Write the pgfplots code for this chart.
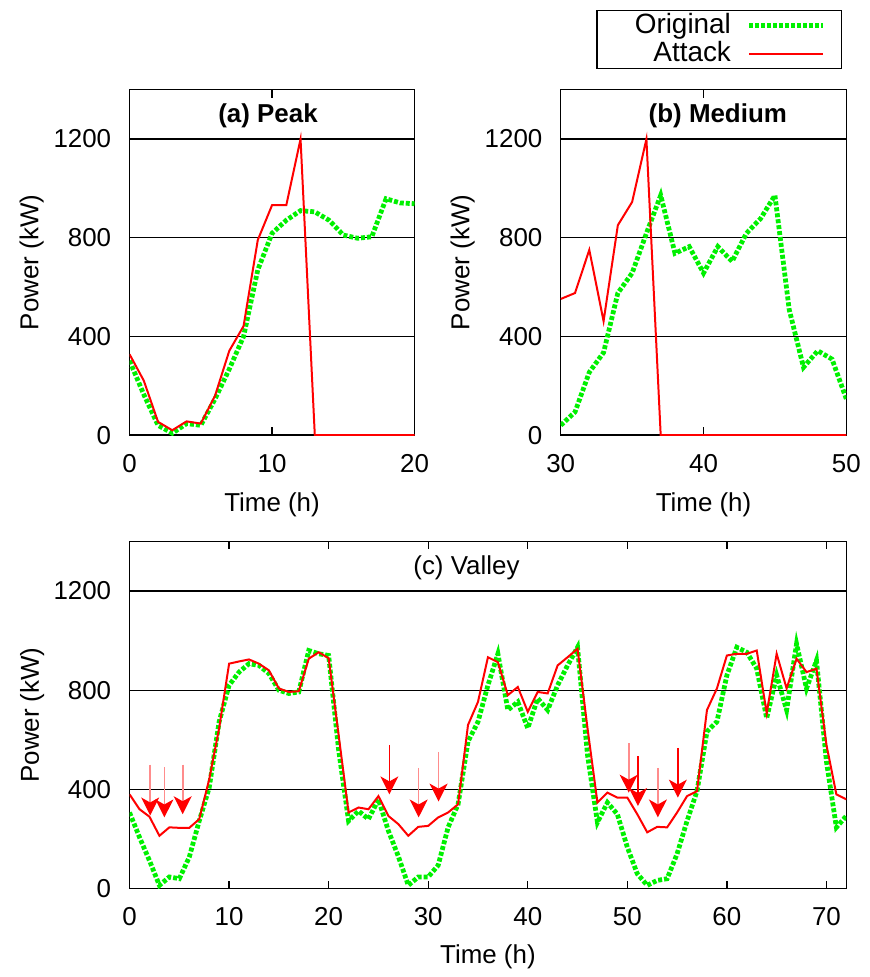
\documentclass[border=0pt]{standalone}
\usepackage{fontspec}
\setmainfont{Liberation Sans}
\usepackage{pgfplots}
\pgfplotsset{compat=1.18}
\usetikzlibrary{arrows.meta}

\definecolor{ggreen}{RGB}{0,240,0}

\pgfplotsset{
  panel/.style={
    scale only axis,
    ymin=0, ymax=1400,
    ytick={0,400,800,1200},
    ymajorgrids,
    grid style={black, line width=0.7pt},
    axis line style={line width=0.7pt},
    tick align=inside,
    major tick length=4pt,
    tick style={black, line width=0.7pt},
    every axis title shift=0pt,
    /pgf/number format/assume math mode=true,
    /pgf/number format/1000 sep={},
    xticklabel style={yshift=-5pt},
    yticklabel style={xshift=-4.7pt},
    xlabel={Time (h)},
    ylabel={Power (kW)},
  },
  orig/.style={color=ggreen, line width=2.4pt, dash pattern=on 2pt off 1pt},
  att/.style={color=red, line width=1pt},
  hit/.style={line width=0.8pt, forget plot,
    -{Stealth[red, length=9pt, width=9pt, inset=2.5pt]},
    quiver={u=0, v=\thisrow{v}}},
}

\begin{document}
\fontsize{13}{15}\selectfont
\begin{tikzpicture}
\path (0,0) rectangle (435.5pt,-488.5pt);

% (a) Peak
\begin{axis}[panel,
  at={(65pt,-218.35pt)}, anchor=south west,
  width=143pt, height=173.35pt,
  xmin=0, xmax=20, xtick={0,10,20},
  title={\textbf{(a) Peak}},
  title style={at={(axis description cs:0.486,0.923)}, anchor=center},
  xlabel style={at={(axis description cs:0.5,-0.202)}, anchor=center},
  ylabel style={at={(axis description cs:-0.343,0.5)}, anchor=center},
]
\addplot[orig] table {
t p
0 302
1 165
2 40
3 8
4 47
5 40
6 147
7 268
8 400
9 670
10 818
11 871
12 910
13 905
14 871
15 811
16 798
17 804
18 958
19 941
20 938
};
\addplot[att] table {
t p
0 328
1 221
2 54
3 20
4 56
5 47
6 160
7 342
8 442
9 791
10 932
11 932
12 1200
13 0
14 0
15 0
16 0
17 0
18 0
19 0
20 0
};
\end{axis}

% (b) Medium
\begin{axis}[panel,
  at={(281.35pt,-218.35pt)}, anchor=south west,
  width=143.3pt, height=173.35pt,
  xmin=30, xmax=50, xtick={30,40,50},
  title={\textbf{(b) Medium}},
  title style={at={(axis description cs:0.55,0.923)}, anchor=center},
  xlabel style={at={(axis description cs:0.5,-0.202)}, anchor=center},
  ylabel style={at={(axis description cs:-0.343,0.5)}, anchor=center},
  legend cell align=right,
  legend plot pos=right,
  legend image code/.code={\draw[#1] (0pt,0pt) -- (37pt,0pt);},
  legend style={at={(axis description cs:0.985,1.231)}, anchor=north east,
    draw=black, line width=0.7pt, inner xsep=8pt, inner ysep=0.5pt,
    row sep=0pt, font=\fontsize{14}{16}\selectfont, nodes={inner ysep=1pt, inner xsep=1pt}},
]
\addplot[orig] table {
t p
30 40
31 94
32 255
33 335
34 576
35 657
36 818
37 972
38 737
39 764
40 657
41 764
42 704
43 818
44 878
45 972
46 509
47 275
48 342
49 308
50 147
};
\addlegendentry{\hspace*{10pt}Original\hspace*{7pt}}
\addplot[att] table {
t p
30 552
31 576
32 751
33 462
34 851
35 945
36 1200
37 0
38 0
40 0
45 0
50 0
};
\addlegendentry{Attack\hspace*{7pt}}
\end{axis}

% (c) Valley
\begin{axis}[panel,
  at={(65pt,-445.85pt)}, anchor=south west,
  width=359.65pt, height=174.2pt,
  xmin=0, xmax=72, xtick={0,10,...,70},
  title={(c) Valley},
  title style={at={(axis description cs:0.47,0.923)}, anchor=center},
  xlabel style={at={(axis description cs:0.5,-0.195)}, anchor=center},
  ylabel style={at={(axis description cs:-0.136,0.5)}, anchor=center},
]
\addplot[orig] table {
t p
0 307
1 207
2 113
3 13
4 47
5 40
6 127
7 273
8 407
9 673
10 820
11 873
12 907
13 900
14 867
15 800
16 787
17 793
18 960
19 947
20 940
21 560
22 273
23 313
24 280
25 360
26 233
27 130
28 13
29 47
30 47
31 94
32 247
33 340
34 593
35 673
36 820
37 947
38 720
39 753
40 647
41 767
42 720
43 820
44 900
45 973
46 540
47 267
48 347
49 300
50 167
51 60
52 13
53 33
54 40
55 140
56 273
57 393
58 633
59 673
60 860
61 973
62 953
63 887
64 687
65 860
66 720
67 987
68 807
69 920
70 513
71 247
72 293
};
\addplot[att] table {
t p
0 380
1 320
2 290
3 213
4 247
5 245
6 245
7 280
8 440
9 647
10 907
11 916
12 924
13 907
14 880
15 807
16 793
17 796
18 927
19 953
20 929
21 620
22 307
23 327
24 320
25 373
26 293
27 260
28 213
29 249
30 253
31 287
32 307
33 340
34 660
35 753
36 933
37 913
38 780
39 813
40 713
41 793
42 787
43 900
44 933
45 967
46 647
47 347
48 387
49 367
50 367
51 300
52 227
53 249
54 247
55 307
56 373
57 393
58 720
59 807
60 940
61 947
62 947
63 960
64 707
65 947
66 807
67 927
68 873
69 887
70 580
71 380
72 360
};
% attack markers, faded shafts
\addplot[hit, red!45] table {
t p v
2.07 500 -205
3.5 490 -203
5.34 500 -200
29.04 487 -200
31.04 551 -200
50.14 587 -200
53.07 487 -200
};
% attack markers, solid shafts
\addplot[hit, red] table {
t p v
26.1 580 -200
51.07 533 -200
55.08 567 -200
};
\end{axis}
\end{tikzpicture}
\end{document}
